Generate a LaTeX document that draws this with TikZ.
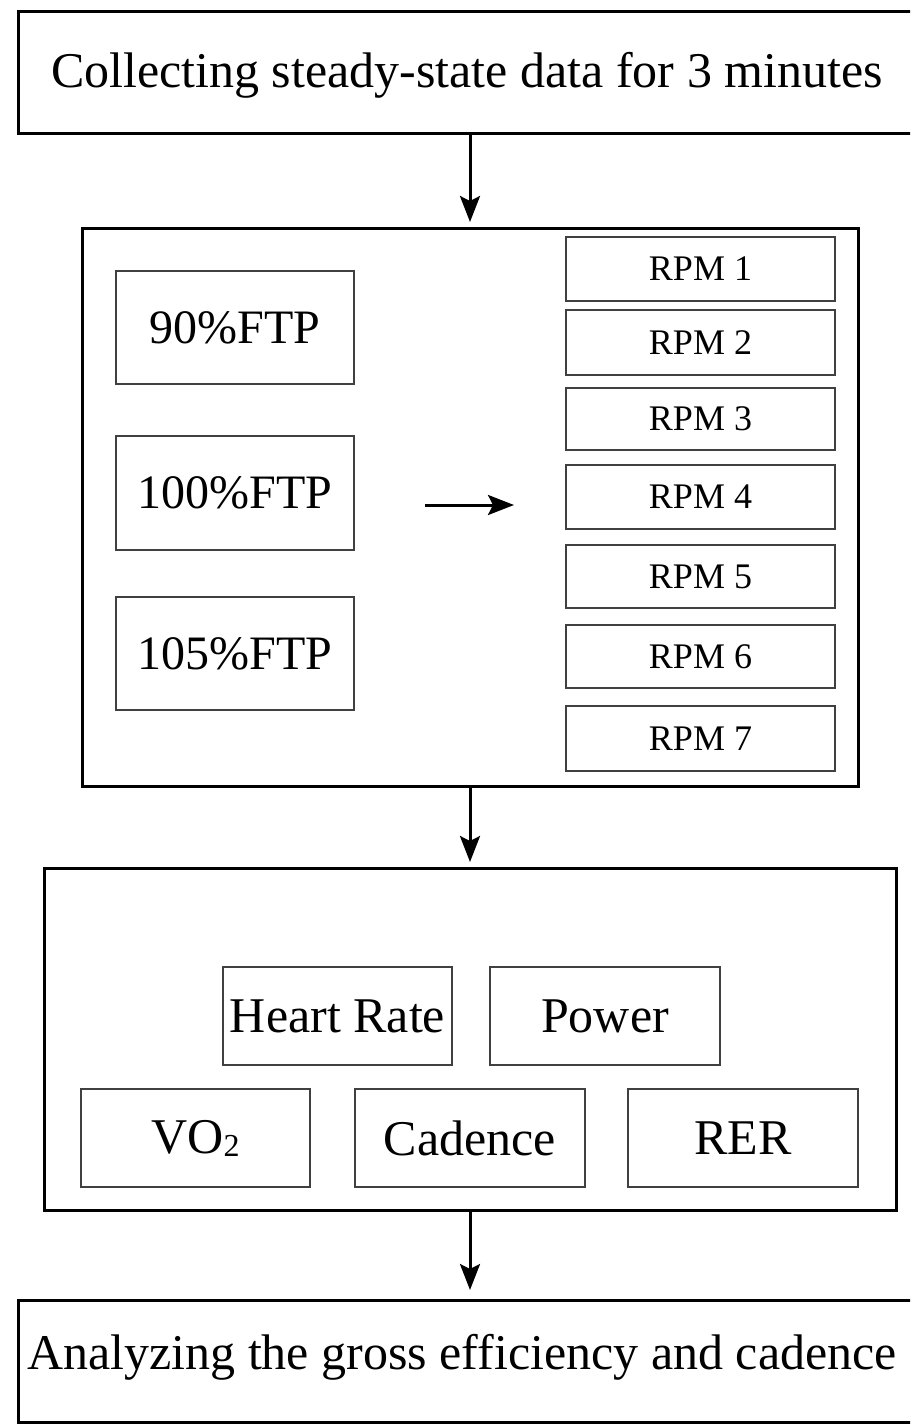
\documentclass[tikz,border=0pt]{standalone}
\usepackage{fontspec}
\setmainfont{Liberation Serif}
\usetikzlibrary{arrows.meta}
\tikzset{
  outerbox/.style={draw=black, line width=3pt, inner sep=0pt, outer sep=0pt},
  innerbox/.style={draw=black!75, line width=2.2pt, inner sep=0pt, outer sep=0pt},
  bigtext/.style={font=\fontsize{50}{60}\selectfont},
  midtext/.style={font=\fontsize{48}{58}\selectfont},
  rpmtext/.style={font=\fontsize{36}{42}\selectfont},
  arr/.style={line width=3pt, -{Stealth[length=26pt,width=20pt,inset=5pt]}},
}
\begin{document}
\begin{tikzpicture}[x=1pt,y=-1pt]
\useasboundingbox (0,0) rectangle (910,1426);
\fill[white] (0,0) rectangle (910,1426);
\clip (0,0) rectangle (910,1426);
% top box
\node[outerbox, minimum width=904pt, minimum height=122pt] (top) at (470,73) {};
\node[bigtext] (toptext) at (467,75) {Collecting steady-state data for 3 minutes};
% middle box
\node[outerbox, minimum width=776pt, minimum height=558pt] (mid) at (470,507) {};
\node[innerbox, midtext, minimum width=238pt, minimum height=113pt] (ftp1) at (235,327.5) {90\%FTP};
\node[innerbox, midtext, minimum width=238pt, minimum height=114pt] (ftp2) at (235,493) {100\%FTP};
\node[innerbox, midtext, minimum width=238pt, minimum height=113pt] (ftp3) at (235,653.5) {105\%FTP};
\node[innerbox, rpmtext, minimum width=269pt, minimum height=64pt] (r1) at (700.5,269) {RPM 1};
\node[innerbox, rpmtext, minimum width=269pt, minimum height=65pt] (r2) at (700.5,342.5) {RPM 2};
\node[innerbox, rpmtext, minimum width=269pt, minimum height=62pt] (r3) at (700.5,419) {RPM 3};
\node[innerbox, rpmtext, minimum width=269pt, minimum height=64pt] (r4) at (700.5,497) {RPM 4};
\node[innerbox, rpmtext, minimum width=269pt, minimum height=63pt] (r5) at (700.5,576.5) {RPM 5};
\node[innerbox, rpmtext, minimum width=269pt, minimum height=63pt] (r6) at (700.5,656.5) {RPM 6};
\node[innerbox, rpmtext, minimum width=269pt, minimum height=65pt] (r7) at (700.5,738.5) {RPM 7};
\coordinate (hA) at (425,505);
\coordinate (hB) at (514,505);
\draw[arr] (hA) -- (hB);
% lower box
\node[outerbox, minimum width=852pt, minimum height=342pt] (low) at (470,1039) {};
\node[innerbox, bigtext, minimum width=229pt, minimum height=98pt] (hr) at (337.5,1016) {Heart Rate};
\node[innerbox, bigtext, minimum width=230pt, minimum height=98pt] (pw) at (605,1016) {Power};
\node[innerbox, bigtext, minimum width=229pt, minimum height=98pt] (vo) at (195.5,1138) {VO{\fontsize{32}{32}\selectfont\raisebox{-3pt}{2}}};
\node[innerbox, bigtext, minimum width=230pt, minimum height=98pt] (cad) at (470,1138) {Cadence};
\node[innerbox, bigtext, minimum width=230pt, minimum height=98pt] (rer) at (743,1138) {RER};
% bottom box
\node[outerbox, minimum width=904pt, minimum height=122pt] (bot) at (470,1361) {};
\node[bigtext] (bottext) at (462,1357) {Analyzing the gross efficiency and cadence};
% arrows
\draw[arr, shorten >=6pt] (top.south) -- (mid.north);
\draw[arr, shorten >=6pt] (mid.south) -- (low.north);
\draw[arr, shorten >=10pt] (low.south) -- (bot.north);
\end{tikzpicture}
\end{document}
